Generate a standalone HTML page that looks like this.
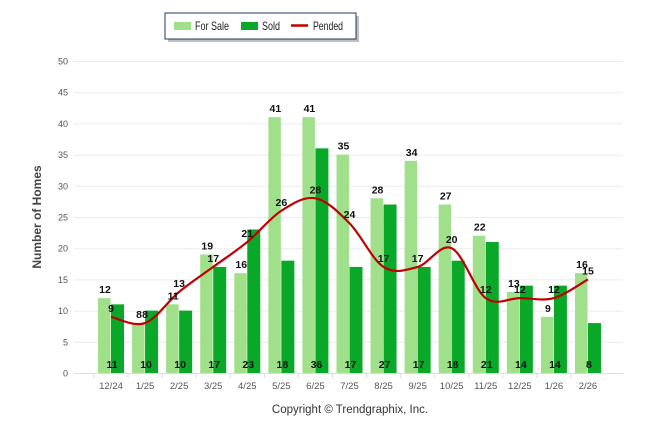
<!DOCTYPE html>
<html><head><meta charset="utf-8"><style>
body{margin:0;background:#fff;font-family:"Liberation Sans",sans-serif}
svg{display:block}
</style></head><body>
<svg id="chart" width="646" height="434" xmlns="http://www.w3.org/2000/svg">
<g>
<rect x="166" y="14" width="191" height="26" fill="#000" opacity="0.25" transform="translate(2,2)"/>
<rect x="165" y="13" width="191" height="26" fill="#fff" stroke="#1f3864" stroke-width="1"/>
<rect x="174" y="22" width="17" height="8" fill="#a0e08a"/>
<text x="195" y="30" font-size="12" fill="#222" textLength="34" lengthAdjust="spacingAndGlyphs">For Sale</text>
<rect x="241" y="22" width="17" height="8" fill="#0aa828"/>
<text x="262" y="30" font-size="12" fill="#222" textLength="18" lengthAdjust="spacingAndGlyphs">Sold</text>
<line x1="291" y1="25.5" x2="308" y2="25.5" stroke="#c00000" stroke-width="2.5"/>
<text x="313" y="30" font-size="12" fill="#222" textLength="30" lengthAdjust="spacingAndGlyphs">Pended</text>
</g>
<text transform="translate(41,217) rotate(-90)" text-anchor="middle" font-size="12" font-weight="bold" fill="#444">Number of Homes</text>
<text x="350" y="413" text-anchor="middle" font-size="11.5" fill="#333">Copyright © Trendgraphix, Inc.</text>
<g id="grid"></g><g id="bars"></g><g id="line"></g><g id="labels"></g>
</svg>
<script>
const categories=["12/24","1/25","2/25","3/25","4/25","5/25","6/25","7/25","8/25","9/25","10/25","11/25","12/25","1/26","2/26"];
const forSale=[12,8,11,19,16,41,41,35,28,34,27,22,13,9,16];
const sold=[11,10,10,17,23,18,36,17,27,17,18,21,14,14,8];
const pended=[9,8,13,17,21,26,28,24,17,17,20,12,12,12,15];
const yTicks=[0,5,10,15,20,25,30,35,40,45,50];
const NS="http://www.w3.org/2000/svg";
const y0=373,y1=61,yMax=50;
const yS=v=>y0-(v/yMax)*(y0-y1);
const xS=i=>111+i*34.07;
function mk(tag,attrs,parent,text){const e=document.createElementNS(NS,tag);for(const k in attrs)e.setAttribute(k,attrs[k]);if(text!==undefined)e.textContent=text;document.getElementById(parent).appendChild(e);return e;}
yTicks.forEach(t=>{
 const g=mk('line',{x1:74,x2:623,y1:yS(t)+0.5,y2:yS(t)+0.5,stroke:t===0?'#ddd':'#ebebeb','stroke-width':1},'grid');
 
 
 const l=mk('text',{x:68,y:yS(t)+3.5,'text-anchor':'end','font-size':9,fill:'#555'},'grid',t);
 
 
});
categories.forEach((c,i)=>{
 const cx=xS(i);
 const tk=mk('line',{x1:cx-17,x2:cx-17,y1:373,y2:378,stroke:'#ddd'},'grid');
 
 
 const l=mk('text',{x:cx,y:389,'text-anchor':'middle','font-size':9.5,fill:'#555'},'grid',c);
 
 
 const b1=mk('rect',{x:cx-13,y:yS(forSale[i]),width:12.5,height:y0-yS(forSale[i]),fill:'#a0e08a'},'bars');
 
 
 const b2=mk('rect',{x:cx,y:yS(sold[i]),width:13,height:y0-yS(sold[i]),fill:'#0aa828'},'bars');
 
 
 const t1=mk('text',{x:cx-6,y:yS(forSale[i])-5,'text-anchor':'middle','font-size':10.5,'font-weight':'bold',fill:'#111'},'labels',forSale[i]);
 
 
 const t2=mk('text',{x:cx+1,y:368,'text-anchor':'middle','font-size':10.5,'font-weight':'bold',fill:'#111'},'labels',sold[i]);
 
 
 const t3=mk('text',{x:cx,y:yS(pended[i])-5,'text-anchor':'middle','font-size':10.5,'font-weight':'bold',fill:'#111'},'labels',pended[i]);
 
 
});
const pts=pended.map((v,i)=>[xS(i),yS(v)]);
let d=`M${pts[0][0]},${pts[0][1]}`;
for(let i=0;i<pts.length-1;i++){
 const p0=pts[i-1]||pts[i],p1=pts[i],p2=pts[i+1],p3=pts[i+2]||p2;
 const c1=[p1[0]+(p2[0]-p0[0])/6,p1[1]+(p2[1]-p0[1])/6];
 const c2=[p2[0]-(p3[0]-p1[0])/6,p2[1]-(p3[1]-p1[1])/6];
 d+=` C${c1[0]},${c1[1]} ${c2[0]},${c2[1]} ${p2[0]},${p2[1]}`;
}
const ln=mk('path',{d:d,fill:'none',stroke:'#c00000','stroke-width':2.2},'line');


</script>
</body></html>
